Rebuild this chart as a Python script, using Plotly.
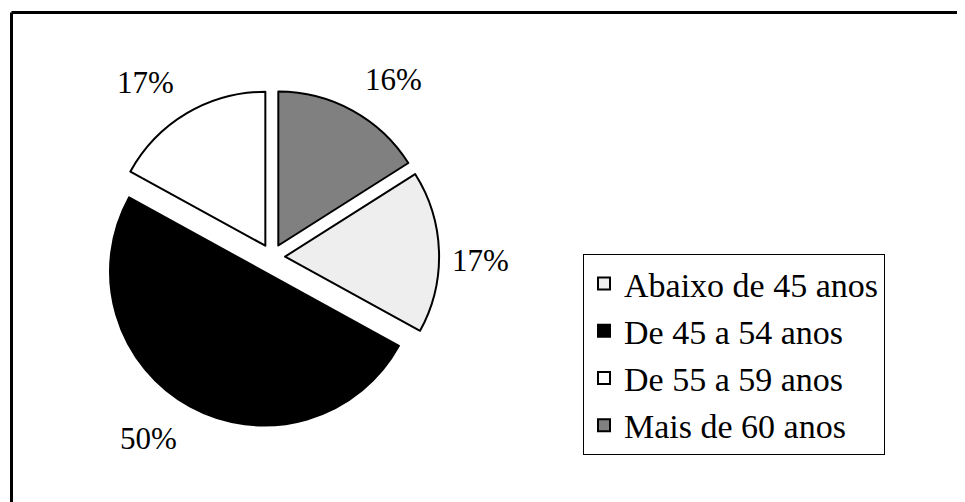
import math
import plotly.graph_objects as go

categories = ["Abaixo de 45 anos", "De 45 a 54 anos", "De 55 a 59 anos", "Mais de 60 anos"]
values = [17, 50, 17, 16]
colors = ["#EEEEEE", "#000000", "#FFFFFF", "#808080"]
pulls = [0.085, 0.108, 0.085, 0.085]

W, H = 965, 502
OFF = 8  # page body margin
FONT = "Times New Roman, Liberation Serif, serif"
ROT = 57.6
cx, cy, R = 272 - OFF, 257 - OFF, 154
half = R * (1 + max(pulls))

fig = go.Figure(go.Pie(
    labels=categories,
    values=values,
    sort=False,
    direction="clockwise",
    rotation=ROT,
    pull=pulls,
    marker=dict(colors=colors, line=dict(color="black", width=2)),
    textinfo="none",
    domain=dict(x=[(cx - half) / W, (cx + half) / W],
                y=[1 - (cy + half) / H, 1 - (cy - half) / H]),
    hoverinfo="label+percent",
))

# percentage labels placed outside each slice, along its mid-angle
total = sum(values)
annotations = []
cum = 0
for v, p in zip(values, pulls):
    mid = math.radians(ROT + 360 * (cum + v / 2) / total)
    cum += v
    sx, cy_ = math.sin(mid), math.cos(mid)
    xa = "left" if sx > 0.3 else ("right" if sx < -0.3 else "center")
    ya = "bottom" if cy_ > 0.3 else ("top" if cy_ < -0.3 else "middle")
    gap = 22 if ya != "middle" else 11
    d = R * (1 + p) + gap
    px = cx + d * sx
    py = cy - d * cy_
    # compensate the text box padding above/below the glyphs
    if ya == "bottom":
        py += 8
    elif ya == "top":
        py -= 7
    else:
        py += 9
    annotations.append(dict(
        x=px / W, y=1 - py / H, xref="paper", yref="paper",
        text=f"{round(100 * v / total)}%", showarrow=False,
        xanchor=xa, yanchor=ya,
        font=dict(family=FONT, size=31, color="black"),
    ))

fx, fy = 11.5 - OFF, 12.5 - OFF
fig.update_layout(
    width=W, height=H,
    margin=dict(l=0, r=0, t=0, b=0),
    paper_bgcolor="white",
    plot_bgcolor="white",
    font=dict(family=FONT, color="black"),
    showlegend=True,
    legend=dict(
        x=(583 - OFF) / W, y=1 - (254 - OFF) / H, xanchor="left", yanchor="top",
        bordercolor="black", borderwidth=1, bgcolor="white",
        font=dict(family=FONT, size=34, color="black"),
        traceorder="normal",
    ),
    annotations=annotations,
    shapes=[
        dict(type="line", xref="paper", yref="paper",
             x0=fx / W, x1=1, y0=1 - fy / H, y1=1 - fy / H,
             line=dict(color="black", width=3)),
        dict(type="line", xref="paper", yref="paper",
             x0=fx / W, x1=fx / W, y0=0, y1=1 - fy / H,
             line=dict(color="black", width=3)),
    ],
)

fig.write_html("out.html")
